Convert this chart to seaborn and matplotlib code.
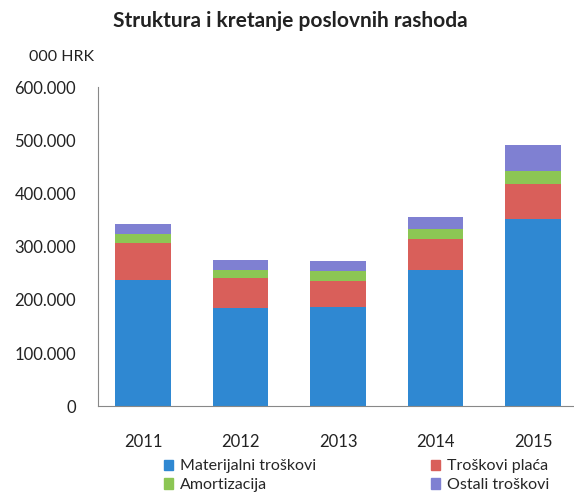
import seaborn as sns
import numpy as np
import matplotlib.pyplot as plt
import pandas as pd
from matplotlib.patches import Patch
from matplotlib.ticker import FuncFormatter

godine = ["2011", "2012", "2013", "2014", "2015"]
# vrijednosti u 000 HRK, očitane s grafa
materijalni = [238000, 184000, 187000, 257000, 352000]
place = [69000, 57000, 49000, 57000, 66000]
amortizacija = [17000, 15000, 18000, 19000, 24000]
ostali = [19000, 19000, 19000, 22000, 50000]

serije = ["Materijalni troškovi", "Troškovi plaća", "Amortizacija", "Ostali troškovi"]
boje = ["#2f88d2", "#d95f5a", "#8cc654", "#7f80d2"]

df = pd.DataFrame({"godina": godine, serije[0]: materijalni, serije[1]: place,
                   serije[2]: amortizacija, serije[3]: ostali})

sns.set_style("white")
plt.rcParams['font.family'] = ['Lato', 'DejaVu Sans']

fig = plt.figure(figsize=(5.74, 5.04), dpi=100)
ax = fig.add_axes([0.171, 0.194, 0.829, 0.633])

# kumulativne sume, crtamo od vrha prema dolje
kum = df[serije].cumsum(axis=1)
for s, c in reversed(list(zip(serije, boje))):
    sns.barplot(x=df["godina"], y=kum[s], color=c, width=0.57, ax=ax,
                saturation=1, edgecolor="none")

ax.set_ylim(0, 600000)
ax.set_xlim(-0.46, 4.42)
ax.set_yticks(np.arange(0, 600001, 100000))
ax.yaxis.set_major_formatter(FuncFormatter(lambda v, p: "0" if v == 0 else f"{int(v):,}".replace(",", ".")))
ax.set_xlabel("")
ax.set_ylabel("")
ax.tick_params(axis="both", labelsize=12, colors="#222222", length=0)
ax.tick_params(axis="y", pad=16)
ax.tick_params(axis="x", pad=20)
for sp in ["top", "right"]:
    ax.spines[sp].set_visible(False)
ax.spines["left"].set_color("#888888")
ax.spines["bottom"].set_color("#888888")

fig.text(0.505, 0.958, "Struktura i kretanje poslovnih rashoda", ha="center", va="center",
         fontsize=15, fontweight="bold", color="#222222")
fig.text(0.05, 0.887, "000 HRK", ha="left", va="center", fontsize=11.5, color="#222222")

handles = [Patch(color=boje[0]), Patch(color=boje[2]), Patch(color=boje[1]), Patch(color=boje[3])]
labels = [serije[0], serije[2], serije[1], serije[3]]
fig.legend(handles, labels, ncol=2, loc="lower left", bbox_to_anchor=(0.26, -0.005),
           frameon=False, fontsize=11.5, handlelength=0.6, handleheight=0.6,
           handletextpad=0.4, columnspacing=7.2, labelspacing=0.3)

fig.savefig("out.png", dpi=100)
